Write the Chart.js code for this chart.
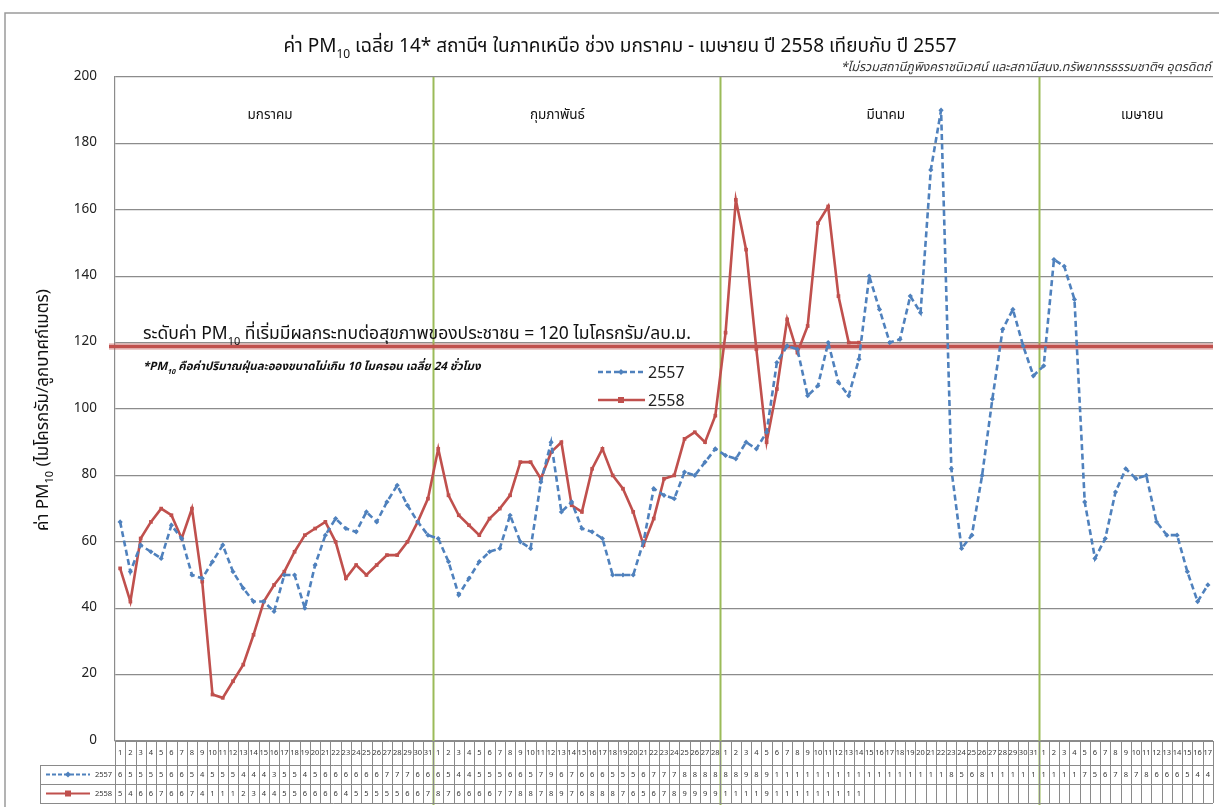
<!DOCTYPE html>
<html>
<head>
<meta charset="utf-8">
<script src="https://cdn.jsdelivr.net/npm/chart.js@4.4.1/dist/chart.umd.min.js"></script>
<style>
html,body{margin:0;padding:0;background:#fff;}
canvas{display:block;}
</style>
</head>
<body>
<canvas id="c" width="1219" height="807"></canvas>
<script>
// ---- data ----
const monthNames = ['มกราคม', 'กุมภาพันธ์', 'มีนาคม', 'เมษายน'];
const monthDays = [31, 28, 31, 17];
const seriesNames = ['2557', '2558'];

const pm2557_jan = [66,51,59,57,55,65,61,50,49,54,59,51,46,42,42,39,50,50,40,53,62,67,64,63,69,66,72,77,71,66,62];
const pm2557_feb = [61,54,44,49,54,57,58,68,60,58,78,90,69,72,64,63,61,50,50,50,60,76,74,73,81,80,84,88];
const pm2557_mar = [86,85,90,88,93,114,119,118,104,107,120,108,104,115,140,130,120,121,134,129,172,190,82,58,62,80,103,124,130,119,110];
const pm2557_apr = [113,145,143,133,72,55,61,75,82,79,80,66,62,62,51,42,47];

const pm2558_jan = [52,42,61,66,70,68,61,70,48,14,13,18,23,32,42,47,51,57,62,64,66,60,49,53,50,53,56,56,60,66,73];
const pm2558_feb = [88,74,68,65,62,67,70,74,84,84,79,87,90,71,69,82,88,80,76,69,59,67,79,80,91,93,90,98];
const pm2558_mar = [123,163,148,118,90,106,127,117,125,156,161,134,120,120];
const pm2558_apr = [];

const yTicks = [0,20,40,60,80,100,120,140,160,180,200];
const thresholdValue = 120;

// ---- derived ----
const dayLabels = [];
monthDays.forEach(n => { for (let d = 1; d <= n; d++) dayLabels.push(String(d)); });
function pad(arr, n){ const a = arr.slice(); while (a.length < n) a.push(null); return a; }
const pm2557 = [].concat(pad(pm2557_jan,31), pad(pm2557_feb,28), pad(pm2557_mar,31), pad(pm2557_apr,17));
const pm2558 = [].concat(pad(pm2558_jan,31), pad(pm2558_feb,28), pad(pm2558_mar,31), pad(pm2558_apr,17));

const FONT = "'Noto Sans Thai', Tahoma, 'Noto Sans', 'DejaVu Sans', sans-serif";
const BLUE = '#4f81bd', RED = '#c0504d', GREEN = '#9bbb59', GRID = '#8c8c8c';

function drawRich(ctx, parts, x, y, size, align, style){
  style = style || '';
  const subSize = Math.round(size * 0.62);
  let total = 0;
  const widths = parts.map(p => {
    ctx.font = style + (p.sub ? subSize : size) + 'px ' + FONT;
    const w = ctx.measureText(p.t).width; total += w; return w;
  });
  let cx = align === 'center' ? x - total/2 : (align === 'right' ? x - total : x);
  ctx.textAlign = 'left'; ctx.textBaseline = 'alphabetic';
  parts.forEach((p, i) => {
    ctx.font = style + (p.sub ? subSize : size) + 'px ' + FONT;
    ctx.fillText(p.t, cx, p.sub ? y + size*0.32 : y);
    cx += widths[i];
  });
}

function drawMarker(ctx, style, x, y, r, color){
  ctx.save(); ctx.fillStyle = color; ctx.beginPath();
  if (style === 'rectRot'){ ctx.moveTo(x, y-r); ctx.lineTo(x+r, y); ctx.lineTo(x, y+r); ctx.lineTo(x-r, y); ctx.closePath(); }
  else { ctx.rect(x-r, y-r, 2*r, 2*r); }
  ctx.fill(); ctx.restore();
}

const deco = {
  id: 'deco',
  beforeDatasetsDraw(chart){
    const ctx = chart.ctx, xs = chart.scales.x, ys = chart.scales.y, ca = chart.chartArea;
    const w = (xs.right - xs.left) / dayLabels.length;
    ctx.save();
    // month separators
    let start = 0;
    ctx.strokeStyle = GREEN; ctx.lineWidth = 2;
    for (let m = 1; m < monthDays.length; m++){
      start += monthDays[m-1];
      const bx = Math.round(xs.getPixelForValue(start) - w/2) + 0.5;
      ctx.beginPath(); ctx.moveTo(bx, ca.top); ctx.lineTo(bx, 805); ctx.stroke();
    }
    // threshold line (drawn slightly below 120 grid as in source)
    const ty = ys.getPixelForValue(thresholdValue) + 4;
    ctx.strokeStyle = 'rgba(192,80,77,0.3)'; ctx.lineWidth = 7;
    ctx.beginPath(); ctx.moveTo(ca.left - 6, ty); ctx.lineTo(ca.right, ty); ctx.stroke();
    ctx.strokeStyle = RED; ctx.lineWidth = 3.5;
    ctx.beginPath(); ctx.moveTo(ca.left - 6, ty); ctx.lineTo(ca.right, ty); ctx.stroke();
    ctx.restore();
  },
  afterDraw(chart){
    const ctx = chart.ctx, xs = chart.scales.x, ys = chart.scales.y, ca = chart.chartArea;
    const N = dayLabels.length;
    const w = (xs.right - xs.left) / N;
    ctx.save();
    ctx.fillStyle = '#111';
    // title
    drawRich(ctx, [{t:'ค่า PM'},{t:'10',sub:true},{t:' เฉลี่ย 14* สถานีฯ ในภาคเหนือ ช่วง มกราคม - เมษายน ปี 2558 เทียบกับ ปี 2557'}], 620, 52, 19, 'center');
    ctx.fillStyle = '#333';
    drawRich(ctx, [{t:'*ไม่รวมสถานีภูพิงคราชนิเวศน์ และสถานีสนง.ทรัพยากรธรรมชาติฯ อุตรดิตถ์'}], 1211, 71, 12.5, 'right', 'italic ');
    // y title
    ctx.save(); ctx.translate(48, 410); ctx.rotate(-Math.PI/2); ctx.fillStyle = '#111';
    drawRich(ctx, [{t:'ค่า PM'},{t:'10',sub:true},{t:' (ไมโครกรัม/ลูกบาศก์เมตร)'}], 0, 0, 17, 'center');
    ctx.restore();
    // month labels
    const anchors = [15, 43, 75, 100];
    ctx.fillStyle = '#111';
    monthNames.forEach((mn, i) => {
      drawRich(ctx, [{t: mn}], xs.getPixelForValue(anchors[i]) - 4, ys.getPixelForValue(187.5), 13.5, 'center');
    });
    // threshold text
    drawRich(ctx, [{t:'ระดับค่า PM'},{t:'10',sub:true},{t:' ที่เริ่มมีผลกระทบต่อสุขภาพของประชาชน = 120 ไมโครกรัม/ลบ.ม.'}], 143, 339, 17.5, 'left');
    drawRich(ctx, [{t:'*PM'},{t:'10',sub:true},{t:' คือค่าปริมาณฝุ่นละอองขนาดไม่เกิน 10 ไมครอน เฉลี่ย 24 ชั่วโมง'}], 143, 370, 11.5, 'left', 'italic bold ');
    // legend
    const leg = [{y:372, color:BLUE, dash:[5,3], ps:'rectRot', name:seriesNames[0]}, {y:400, color:RED, dash:[], ps:'rect', name:seriesNames[1]}];
    leg.forEach(l => {
      ctx.save(); ctx.strokeStyle = l.color; ctx.lineWidth = 2.5; ctx.setLineDash(l.dash);
      ctx.beginPath(); ctx.moveTo(598, l.y); ctx.lineTo(645, l.y); ctx.stroke(); ctx.restore();
      drawMarker(ctx, l.ps, 621, l.y, 3, l.color);
      ctx.fillStyle = '#222';
      drawRich(ctx, [{t:l.name}], 648, l.y + 6, 16, 'left');
    });
    // data table
    const rowsY = [741, 765, 784, 803];
    ctx.strokeStyle = '#8a8a8a'; ctx.lineWidth = 1;
    ctx.beginPath();
    for (let r = 0; r < rowsY.length; r++){
      const x0 = r === 0 ? ca.left : 40;
      ctx.moveTo(x0, rowsY[r] + 0.5); ctx.lineTo(ca.right, rowsY[r] + 0.5);
    }
    for (let i = 0; i <= N; i++){
      const x = Math.round(ca.left + i*w) + 0.5;
      ctx.moveTo(x, rowsY[0]); ctx.lineTo(x, rowsY[3]);
    }
    ctx.moveTo(40.5, rowsY[1]); ctx.lineTo(40.5, rowsY[3]);
    ctx.stroke();
    ctx.fillStyle = '#333';
    ctx.font = '7.5px ' + FONT; ctx.textAlign = 'center'; ctx.textBaseline = 'middle';
    const series = [pm2557, pm2558];
    for (let i = 0; i < N; i++){
      const cx = xs.getPixelForValue(i);
      ctx.fillText(dayLabels[i], cx, 753);
      series.forEach((s, k) => {
        if (s[i] == null) return;
        ctx.fillText(String(Math.round(s[i])).charAt(0), cx, (rowsY[k+1] + rowsY[k+2]) / 2 + 1);
      });
    }
    // table legend keys
    const keys = [{c:BLUE, dash:[4,2], ps:'rectRot'}, {c:RED, dash:[], ps:'rect'}];
    keys.forEach((k, j) => {
      const yy = (rowsY[j+1] + rowsY[j+2]) / 2;
      ctx.save(); ctx.strokeStyle = k.c; ctx.lineWidth = 2; ctx.setLineDash(k.dash);
      ctx.beginPath(); ctx.moveTo(46, yy); ctx.lineTo(90, yy); ctx.stroke(); ctx.restore();
      drawMarker(ctx, k.ps, 68, yy, 3, k.c);
      ctx.fillStyle = '#333'; ctx.font = '7.5px ' + FONT; ctx.textAlign = 'left'; ctx.textBaseline = 'middle';
      ctx.fillText(seriesNames[j], 95, yy + 1);
    });
    // outer frame
    ctx.strokeStyle = '#9a9a9a'; ctx.lineWidth = 1.5;
    ctx.beginPath(); ctx.moveTo(5, 812); ctx.lineTo(5, 13); ctx.lineTo(1225, 13); ctx.stroke();
    ctx.restore();
  }
};

new Chart(document.getElementById('c'), {
  type: 'line',
  data: {
    labels: dayLabels,
    datasets: [
      { label: seriesNames[0], data: pm2557, borderColor: BLUE, backgroundColor: BLUE, borderWidth: 2.6,
        borderDash: [6, 3.5], pointStyle: 'rectRot', pointRadius: 2.6, pointBorderWidth: 0, tension: 0, spanGaps: false },
      { label: seriesNames[1], data: pm2558, borderColor: RED, backgroundColor: RED, borderWidth: 2.6,
        pointStyle: 'rect', pointRadius: 2.6, pointBorderWidth: 0, tension: 0, spanGaps: false }
    ]
  },
  options: {
    responsive: false,
    animation: false,
    devicePixelRatio: 1,
    layout: { padding: { left: 0, right: 6, top: 77, bottom: 66 } },
    plugins: { legend: { display: false }, title: { display: false }, tooltip: { enabled: false } },
    scales: {
      x: { type: 'category', offset: true, display: true,
           ticks: { display: false }, grid: { display: false, drawTicks: false }, border: { display: false } },
      y: { min: 0, max: 200,
           afterFit(s){ s.width = 115; },
           afterBuildTicks(s){ s.ticks = yTicks.map(v => ({ value: v })); },
           ticks: { padding: 18, color: '#222', font: { size: 13.5, family: FONT } },
           grid: { color: GRID, lineWidth: 1.2, drawTicks: false },
           border: { display: true, color: GRID, width: 1.2 } }
    }
  },
  plugins: [deco]
});
</script>
</body>
</html>
